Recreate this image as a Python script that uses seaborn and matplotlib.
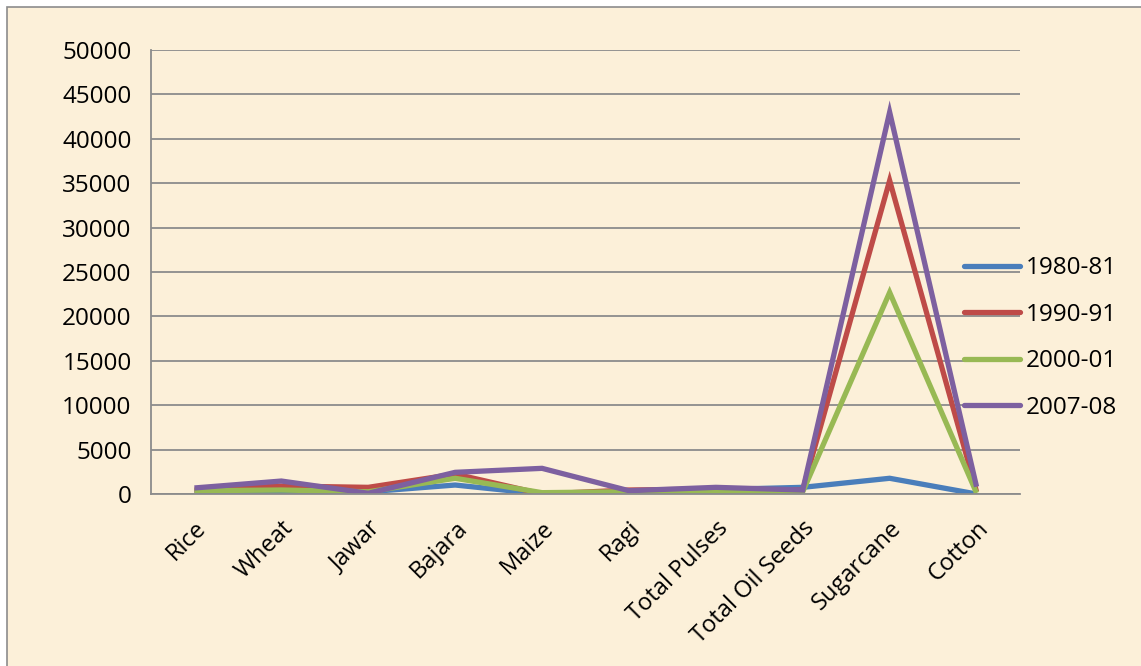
import numpy as np
import pandas as pd
import matplotlib.pyplot as plt
import seaborn as sb
from matplotlib.patches import Rectangle
from matplotlib.ticker import FixedLocator

crops = ["Rice", "Wheat", "Jawar", "Bajara", "Maize", "Ragi",
         "Total Pulses", "Total Oil Seeds", "Sugarcane", "Cotton"]
years = ["1980-81", "1990-91", "2000-01", "2007-08"]

y1980 = [300, 300, 250, 1010, 0, 260, 500, 750, 1770, 0]
y1990 = [450, 900, 750, 2250, 0, 450, 550, 450, 35300, 260]
y2000 = [370, 450, 250, 1770, 150, 260, 370, 260, 22700, 110]
y2007 = [680, 1460, 80, 2440, 2890, 370, 750, 450, 43000, 820]

colors = ["#4A7EBB", "#BE4B48", "#98B954", "#7D60A0"]

df = pd.DataFrame({
    "crop": crops * 4,
    "pos": list(range(len(crops))) * 4,
    "year": np.repeat(years, len(crops)),
    "value": y1980 + y1990 + y2000 + y2007,
})

sb.set_style("white")
plt.rcParams["font.family"] = ["Open Sans", "DejaVu Sans"]
plt.rcParams["text.color"] = "black"
plt.rcParams["xtick.labelcolor"] = "black"
plt.rcParams["ytick.labelcolor"] = "black"

fig = plt.figure(figsize=(11.41, 6.66), dpi=100)
fig.patch.set_facecolor("white")
# chart area background with grey border
fig.patches.append(Rectangle((7 / 1141, -0.01), 1.02, (666 - 7) / 666 + 0.01,
                             transform=fig.transFigure, facecolor="#FCF0D9",
                             edgecolor="#8C8C8C", linewidth=1.2, zorder=-10))

ax = fig.add_axes([151 / 1141, (666 - 494) / 666, (1020 - 151) / 1141, 444 / 666])
ax.set_facecolor("none")

sb.lineplot(data=df, x="pos", y="value", hue="year", hue_order=years,
            palette=colors, linewidth=3.8, ax=ax, legend=False,
            solid_joinstyle="miter", solid_capstyle="butt")

ax.set_xlim(-0.5, len(crops) - 0.5)
ax.set_ylim(0, 50000)
ax.set_yticks(range(0, 50001, 5000))
ax.yaxis.grid(True, color="#8C8C8C", linewidth=1.3)
ax.set_axisbelow(True)

ax.set_xticks(range(len(crops)))
ax.set_xticklabels(crops, rotation=45, ha="right", rotation_mode="anchor")
ax.xaxis.set_minor_locator(FixedLocator(np.arange(-0.5, len(crops), 1)))
ax.tick_params(axis="x", which="major", length=0, pad=16, labelsize=17)
ax.tick_params(axis="x", which="minor", length=8, width=1.3, color="#8C8C8C", direction="out")
ax.tick_params(axis="y", length=8, width=1.3, color="#8C8C8C", direction="out", pad=6, labelsize=17.5)
ax.set_xlabel("")
ax.set_ylabel("")

for s in ["top", "right"]:
    ax.spines[s].set_visible(False)
for s in ["left", "bottom"]:
    ax.spines[s].set_color("#8C8C8C")
    ax.spines[s].set_linewidth(1.3)

handles = [plt.Line2D([], [], color=c, linewidth=3.8, solid_capstyle="round") for c in colors]
fig.legend(handles, years, loc="center left", bbox_to_anchor=(964 / 1141, (666 - 338) / 666),
           frameon=False, fontsize=17.5, handlelength=2.3, handletextpad=0.25,
           labelspacing=0.92, borderpad=0, borderaxespad=0)

fig.savefig("out.png", dpi=100)
